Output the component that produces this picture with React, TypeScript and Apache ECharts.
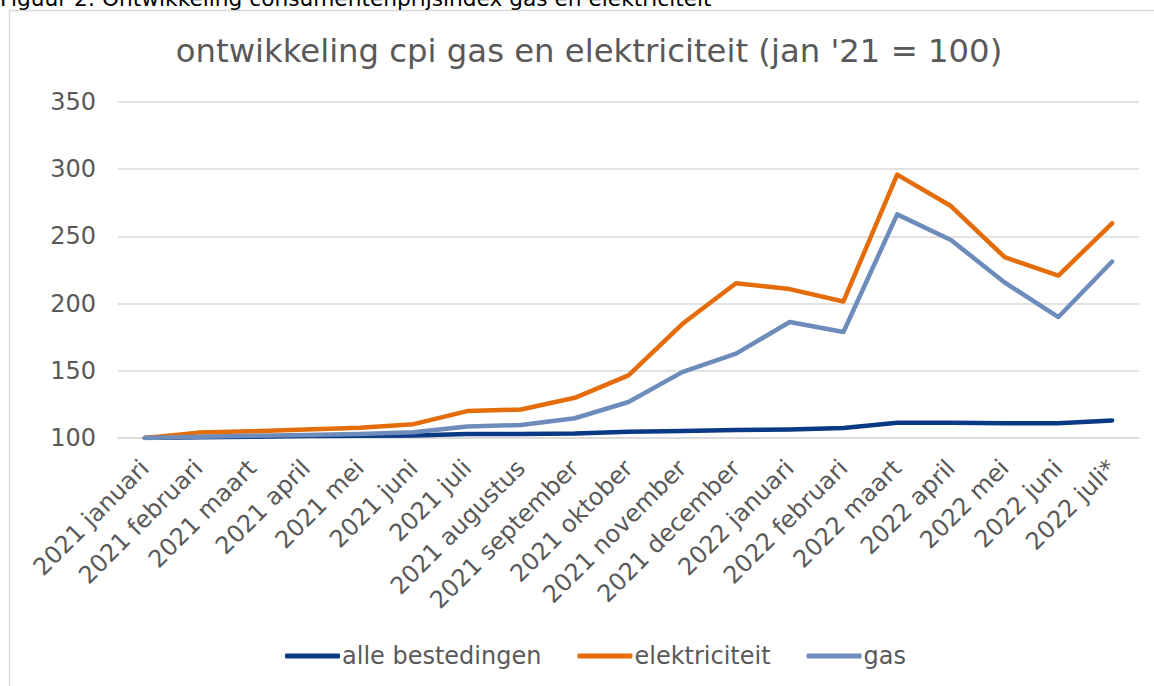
import React, { useEffect, useRef } from "react";
import * as echarts from "echarts";

const categories = [
  "2021 januari", "2021 februari", "2021 maart", "2021 april", "2021 mei", "2021 juni",
  "2021 juli", "2021 augustus", "2021 september", "2021 oktober", "2021 november",
  "2021 december", "2022 januari", "2022 februari", "2022 maart", "2022 april",
  "2022 mei", "2022 juni", "2022 juli*",
];

const alleBestedingen = [100, 100.5, 101, 101.4, 101.7, 101.9, 102.9, 103, 103.3, 104.6, 105.3, 105.9, 106.4, 107.5, 111.3, 111.4, 110.9, 110.9, 113.1];
const elektriciteit = [100, 104, 105, 106.4, 107.6, 110.3, 120, 121.2, 129.9, 146.6, 184.8, 215.2, 210.8, 201.6, 296, 272.6, 234.5, 220.9, 259.7];
const gas = [100, 101, 101.6, 102.3, 103, 104.2, 108.6, 109.6, 114.7, 126.8, 149, 162.8, 186.3, 178.9, 266.4, 247.3, 215.7, 190, 231.3];

const seriesNames = ["alle bestedingen", "elektriciteit", "gas"];
const yTicks = { min: 100, max: 350, interval: 50 };

const titleText = "ontwikkeling cpi gas en elektriciteit (jan '21 = 100)";
const captionText = "Figuur 2: Ontwikkeling consumentenprijsindex gas en elektriciteit";

export default function App() {
  const ref = useRef<HTMLDivElement>(null);
  useEffect(() => {
    if (!ref.current) return;
    const chart = echarts.init(ref.current, undefined, { renderer: "svg" });
    const font = "'DejaVu Sans', Verdana, sans-serif";
    const colors = ["#0a3a86", "#e46c0a", "#6d8cbb"];
    const data = [alleBestedingen, elektriciteit, gas];
    chart.setOption({
      animation: false,
      backgroundColor: "#ffffff",
      textStyle: { fontFamily: font },
      title: {
        text: titleText,
        left: 584,
        textAlign: "center",
        top: 30,
        textStyle: { fontFamily: font, fontSize: 32.3, fontWeight: "normal", color: "#595959" },
      },
      graphic: [
        {
          type: "rect",
          shape: { x: 9.5, y: 10.5, width: 1200, height: 800 },
          style: { fill: "none", stroke: "#d9d9d9", lineWidth: 1.5 },
          silent: true,
        },
        {
          type: "text",
          x: 0,
          y: 9,
          style: {
            text: captionText,
            fontFamily: font,
            fontSize: 21.7,
            fill: "#000000",
            textVerticalAlign: "bottom",
          },
          silent: true,
        },
      ],
      legend: {
        left: 280,
        top: 639,
        icon: "roundRect",
        itemWidth: 55,
        itemHeight: 5,
        itemGap: 36,
        textStyle: { fontFamily: font, fontSize: 24, color: "#595959", padding: [0, 0, 0, -3] },
        data: seriesNames,
      },
      grid: { left: 118, right: 15, top: 102, bottom: 248, containLabel: false },
      xAxis: {
        type: "category",
        data: categories,
        boundaryGap: true,
        axisLine: { show: true, lineStyle: { color: "#d9d9d9", width: 1.5 } },
        axisTick: { show: false },
        axisLabel: {
          interval: 0,
          rotate: 45,
          margin: 26,
          fontFamily: font,
          fontSize: 24,
          color: "#595959",
        },
      },
      yAxis: {
        type: "value",
        min: yTicks.min,
        max: yTicks.max,
        interval: yTicks.interval,
        axisLine: { show: false },
        axisTick: { show: false },
        splitLine: { lineStyle: { color: "#d9d9d9", width: 1.5 } },
        axisLabel: { fontFamily: font, fontSize: 24, color: "#595959", margin: 22 },
      },
      series: seriesNames.map((name, i) => ({
        name,
        type: "line",
        data: data[i],
        symbol: "none",
        smooth: false,
        color: colors[i],
        lineStyle: { color: colors[i], width: 4.5, cap: "round", join: "round" },
        itemStyle: { color: colors[i] },
      })),
    });
    return () => chart.dispose();
  }, []);
  return (
    <div
      ref={ref}
      style={{ position: "fixed", left: 0, top: 0, width: 1154, height: 686 }}
    />
  );
}
